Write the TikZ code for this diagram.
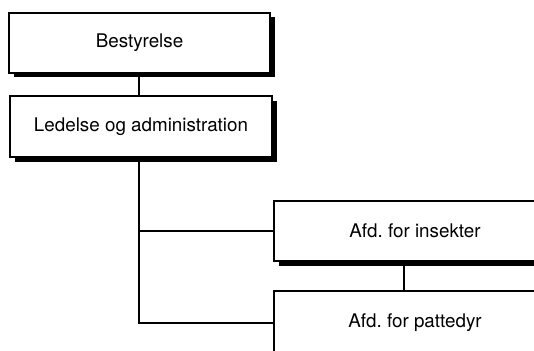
\documentclass[tikz,border=0pt]{standalone}
\usepackage{fontspec}
\setmainfont{TeX Gyre Heros}
\usetikzlibrary{shadows}
\frenchspacing
\begin{document}
\begin{tikzpicture}[x=1pt,y=-1pt,
  orgbox/.style={draw=black, fill=white, line width=1.1pt, inner sep=0pt,
    font=\fontsize{18.8}{22}\selectfont,
    drop shadow={shadow xshift=4.5pt, shadow yshift=-4.5pt, fill=black, opacity=1}},
  link/.style={draw=black, line width=1.1pt}]
\clip (0,0) rectangle (534,350);
\fill[white] (0,0) rectangle (534,350);
\node[orgbox, minimum width=261pt, minimum height=60pt] (b1) at (139.5,43) {Bestyrelse};
\node[orgbox, minimum width=262pt, minimum height=61pt] (b2) at (141,126.5) {Ledelse og administration};
\node[orgbox, minimum width=282pt, minimum height=60pt] (b3) at (415,231) {Afd.\ for insekter};
\node[orgbox, minimum width=282pt, minimum height=64pt] (b4) at (415,323) {Afd.\ for pattedyr};
\coordinate (t1) at (139,73);
\coordinate (t2) at (139,157);
\coordinate (t3) at (404,261);
\draw[link] (t1) -- (t1 |- b2.north);
\draw[link] (t2) |- (b3.west);
\draw[link] (t2) |- (b4.west);
\draw[link] (t3) -- (t3 |- b4.north);
\end{tikzpicture}
\end{document}
